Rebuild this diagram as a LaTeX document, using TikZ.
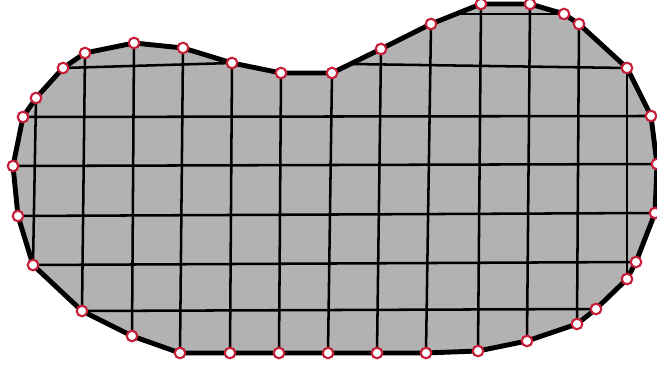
\documentclass[tikz,border=0pt]{standalone}
\usepackage{tikz}
\usetikzlibrary{calc}
\definecolor{meshgray}{RGB}{178,178,178}
\definecolor{meshred}{RGB}{200,30,55}

\begin{document}
\begin{tikzpicture}[x=0.025cm,y=-0.025cm,
		rim/.style={line width=3.5pt,line join=round},
		gridline/.style={line width=1.8pt},
		vtx/.style={circle,draw=meshred,fill=white,line width=1.5pt,inner sep=0pt,minimum size=0.265cm}]
		\useasboundingbox (0,0) rectangle (657,365);
		% boundary vertices
		\foreach \x/\y [count=\i] in {13/166,23/117,36/98,63/68,85/53,134/43,183/48,232/63,281/73,332/73,
			381/49,431/24,481/4,530/4,564/14,579/24,627/68,651/116,657/164,655/213,636/262,627/279,596/309,
			577/324,527/341,478/351,426/353,377/353,328/353,279/353,230/353,180/353,132/336,82/311,33/265,18/216}
			\coordinate (b\i) at (\x,\y);
		% smooth domain
		\fill[meshgray] plot[smooth cycle,tension=0.45] coordinates {(b1) (b2) (b3) (b4) (b5) (b6) (b7) (b8) (b9)
			(b10) (b11) (b12) (b13) (b14) (b15) (b16) (b17) (b18) (b19) (b20) (b21) (b22) (b23) (b24) (b25)
			(b26) (b27) (b28) (b29) (b30) (b31) (b32) (b33) (b34) (b35) (b36)};
		\fill[meshgray] (b1) \foreach \i in {2,...,36} {-- (b\i)} -- cycle;
		% grid
		\coordinate (h1) at ($(b12)!0.5!(b13)$);
		\coordinate (h2) at ($(b10)!0.375!(b11)$);
		\foreach \a/\b in {3/35,5/34,6/33,7/32,8/31,9/30,10/29,11/28,12/27,13/26,14/25,16/24,17/22}
			\draw[gridline] (b\a) -- (b\b);
		\foreach \a/\b in {4/8,2/18,1/19,36/20,35/21,34/23}
			\draw[gridline] (b\a) -- (b\b);
		\draw[gridline] (h1) -- (b15);
		\draw[gridline] (h2) -- (b17);
		% polygon
		\draw[rim] (b1) \foreach \i in {2,...,36} {-- (b\i)} -- cycle;
		\foreach \i in {1,...,36}
			\node[vtx] (v\i) at (b\i) {};
\end{tikzpicture}
\end{document}
